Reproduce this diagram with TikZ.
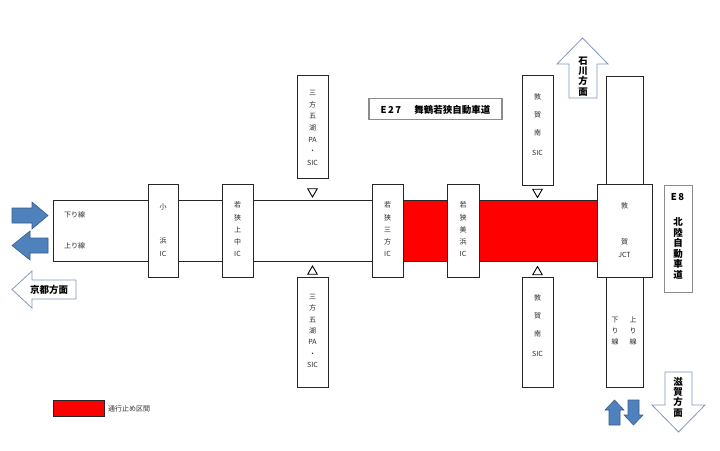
\documentclass[tikz,border=0pt]{standalone}
\usepackage{fontspec}
\usetikzlibrary{shapes.geometric,positioning}
\newfontfamily\jp{Noto Sans CJK JP}
\definecolor{closed}{HTML}{FF0000}
\definecolor{dirblue}{HTML}{4F81BD}
\definecolor{dirline}{HTML}{385D8A}
\definecolor{outline}{HTML}{7F97BA}
\definecolor{ink}{HTML}{2A2A2A}
\tikzset{
  facility/.style={draw=black!85,fill=white,line width=0.9pt,anchor=north west,inner sep=0pt},
  route/.style={draw=black!45,fill=white,line width=1.6pt,inner sep=0pt},
  vtext/.style={font=\jp\fontsize{7}{12.3}\selectfont,text=ink,align=center,inner sep=0pt},
  dirtext/.style={font=\jp\bfseries\fontsize{9.5}{10.3}\selectfont,text=black,align=center,inner sep=0pt},
  exitmark/.style={draw=black,fill=white,line width=0.9pt,regular polygon,regular polygon sides=3,
    minimum size=11pt,inner sep=0pt},
  blueway/.style={draw=dirline,fill=dirblue,line width=0.6pt,line join=miter},
  openway/.style={draw=outline,fill=white,line width=0.8pt,line join=miter}
}
\begin{document}
\begin{tikzpicture}[x=1pt,y=-1pt]
  \useasboundingbox (0,0) rectangle (720,450);
  \node[facility,minimum width=544pt,minimum height=61pt] (road) at (53,200) {};
  \fill[closed] (403,200) rectangle (447,261);
  \fill[closed] (479,200) rectangle (597,261);
  \draw[line width=0.9pt,black!85] (road.north west) -- (road.north east)
    (road.south west) -- (road.south east);
  \node[vtext,anchor=west] (down-l) at (64,215) {下り線};
  \node[vtext,anchor=west] (up-l) at (64,246) {上り線};

  \node[facility,minimum width=30pt,minimum height=93pt] (kohama) at (148,184) {};
  \node[facility,minimum width=31pt,minimum height=93pt] (kaminaka) at (222,184) {};
  \node[facility,minimum width=31pt,minimum height=93pt] (mikata) at (372,184) {};
  \node[facility,minimum width=32pt,minimum height=93pt] (mihama) at (447,184) {};
  \node[vtext,font=\jp\fontsize{7}{13}\selectfont] (kohama-t) at (163,230.5) {小\\[21pt]浜\\IC};
  \node[vtext] (kaminaka-t) at (237.5,229.5) {若\\狭\\上\\中\\IC};
  \node[vtext] (mikata-t) at (387.5,229.5) {若\\狭\\三\\方\\IC};
  \node[vtext] (mihama-t) at (463,229.5) {若\\狭\\美\\浜\\IC};

  \node[facility,minimum width=31pt,minimum height=103pt] (goko-n) at (297,75) {};
  \node[facility,minimum width=31pt,minimum height=110pt] (goko-s) at (297,277) {};
  \node[vtext,font=\jp\fontsize{7}{11.6}\selectfont] (goko-nt) at (312.5,128) {三\\方\\五\\湖\\PA\\・\\SIC};
  \node[vtext,font=\jp\fontsize{7}{11.4}\selectfont] (goko-st) at (312.5,331) {三\\方\\五\\湖\\PA\\・\\SIC};
  \node[exitmark,shape border rotate=180] (goko-nm) at (312.5,191.5) {};
  \node[exitmark] (goko-sm) at (312.5,271.5) {};

  \node[facility,minimum width=31pt,minimum height=110pt] (minami-n) at (522,75) {};
  \node[facility,minimum width=31pt,minimum height=110pt] (minami-s) at (522,277) {};
  \node[vtext,font=\jp\fontsize{7}{17.7}\selectfont] (minami-nt) at (537.5,125) {敦\\賀\\南\\[3pt]SIC};
  \node[vtext,font=\jp\fontsize{7}{17.7}\selectfont] (minami-st) at (537.5,326) {敦\\賀\\南\\[3pt]SIC};
  \node[exitmark,shape border rotate=180] (minami-nm) at (537.5,192) {};
  \node[exitmark] (minami-sm) at (537.5,272) {};

  \node[facility,minimum width=37pt,minimum height=108pt] (jct-n) at (606,76) {};
  \node[facility,minimum width=37pt,minimum height=110pt] (jct-s) at (606,277) {};
  \node[facility,minimum width=55pt,minimum height=93pt] (jct) at (597,184) {};
  \node[vtext,font=\jp\fontsize{7}{12.5}\selectfont] (jct-t) at (624.5,230) {敦\\[24pt]賀\\JCT};
  \node[vtext,font=\jp\fontsize{7}{11}\selectfont] (jct-down) at (615,331) {下\\り\\線};
  \node[vtext,font=\jp\fontsize{7}{11}\selectfont] (jct-up) at (633,331) {上\\り\\線};

  \node[route,minimum width=133pt,minimum height=21pt] (e27) at (435.5,109) {};
  \node[dirtext,font=\jp\bfseries\fontsize{9.5}{10}\selectfont] (e27-t) at (435.5,109.5)
    {E\kern1.5pt2\kern1.5pt7\hspace{13pt}舞鶴若狭自動車道};
  \node[route,minimum width=28pt,minimum height=107pt,anchor=north west] (e8) at (663.5,184.5) {};
  \node[dirtext] (e8-t) at (677.5,197) {E\kern1.5pt8};
  \node[dirtext,font=\jp\bfseries\fontsize{9.5}{10.6}\selectfont] (e8-name) at (678,248.5) {北\\陸\\自\\動\\車\\道};

  \draw[blueway] (12,208) -- (32,208) -- (32,202) -- (48,215.5) -- (32,229) -- (32,223) -- (12,223) -- cycle;
  \draw[blueway] (48,238) -- (30,238) -- (30,231) -- (12,245.5) -- (30,260) -- (30,253) -- (48,253) -- cycle;
  \draw[blueway] (609,425) -- (609,410) -- (605,410) -- (614.5,400) -- (624,410) -- (620,410) -- (620,425) -- cycle;
  \draw[blueway] (628,400) -- (639,400) -- (639,415) -- (643,415) -- (633.5,425) -- (624,415) -- (628,415) -- cycle;

  \draw[openway] (76,280) -- (32,280) -- (32,271) -- (12,289.5) -- (32,308) -- (32,299) -- (76,299) -- cycle;
  \node[dirtext] (kyoto) at (49,290) {京都方面};
  \draw[openway] (569,98) -- (569,64) -- (557,64) -- (582.5,38) -- (608,64) -- (597,64) -- (597,98) -- cycle;
  \node[dirtext] (ishikawa) at (583,76.5) {石\\川\\方\\面};
  \draw[openway] (665,372) -- (692,372) -- (692,405) -- (705,405) -- (678.5,432) -- (652,405) -- (665,405) -- cycle;
  \node[dirtext] (shiga) at (678,397) {滋\\賀\\方\\面};

  \node[draw=black!85,fill=closed,line width=0.9pt,minimum width=51pt,minimum height=16pt,
    anchor=north west,inner sep=0pt] (legend) at (53,400) {};
  \node[vtext,anchor=west,right=3pt of legend] (legend-t) {通行止め区間};
\end{tikzpicture}
\end{document}
